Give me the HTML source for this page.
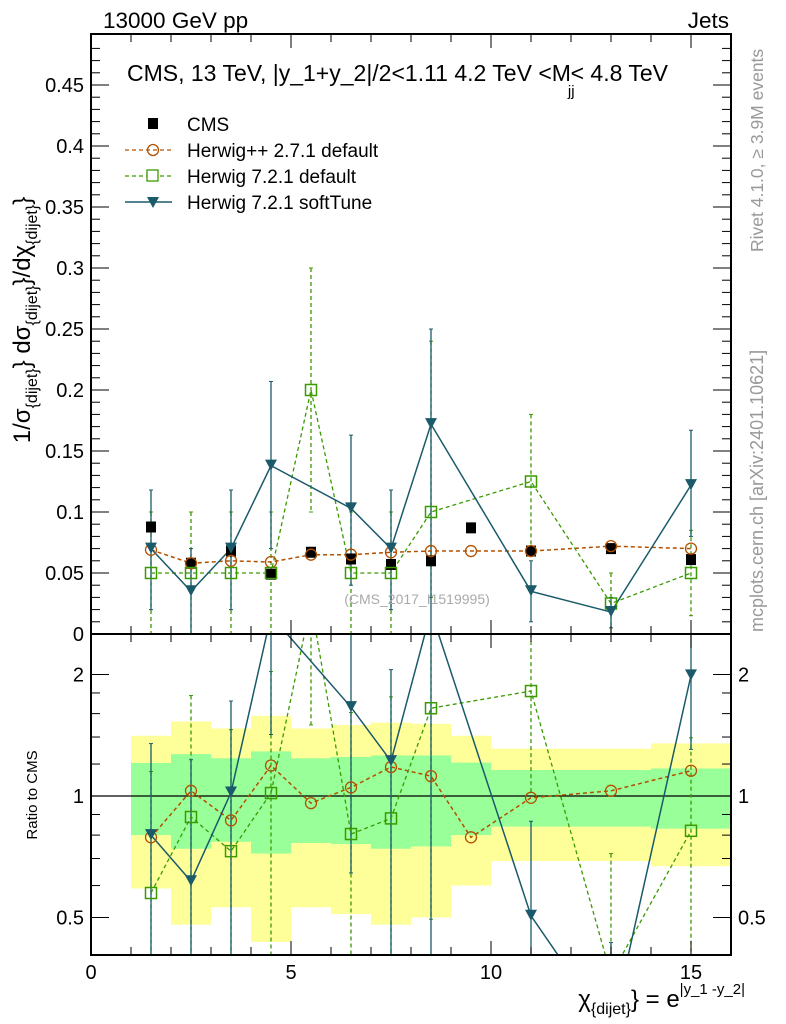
<!DOCTYPE html>
<html><head><meta charset="utf-8"><style>
html,body{margin:0;padding:0;background:#fff;width:786px;height:1024px;overflow:hidden;}
svg{display:block;font-family:"Liberation Sans",sans-serif;}
</style></head><body>
<svg id="chart" width="786" height="1024" viewBox="0 0 786 1024" xmlns="http://www.w3.org/2000/svg">
<g id="bands"></g>
<g id="grid"></g>
<g id="marks"></g>
<g id="axes"></g>
<text x="103" y="28" font-size="22.5">13000 GeV pp</text>
<text x="729" y="28" font-size="22.5" text-anchor="end">Jets</text>
<text x="127" y="81" font-size="23">CMS, 13 TeV, |y_1+y_2|/2&lt;1.11 4.2 TeV &lt;M<tspan font-size="15" dy="15" dx="-3">jj</tspan><tspan dy="-15" dx="-4">&lt; 4.8 TeV</tspan></text>
<text x="417" y="604" font-size="14" fill="#aaa" text-anchor="middle">(CMS_2017_I1519995)</text>
<text transform="translate(763,252) rotate(-90)" font-size="17.5" fill="#999">Rivet 4.1.0, ≥ 3.9M events</text>
<text transform="translate(763,632) rotate(-90)" font-size="18" fill="#999">mcplots.cern.ch [arXiv:2401.10621]</text>
<text transform="translate(30,320) rotate(-90)" font-size="24" text-anchor="middle">1/σ<tspan font-size="16" dy="7">{dijet}</tspan><tspan dy="-7">} dσ</tspan><tspan font-size="16" dy="7">{dijet}</tspan><tspan dy="-7">}/dχ</tspan><tspan font-size="16" dy="7">{dijet}</tspan><tspan dy="-7">}</tspan></text>
<text transform="translate(37,795) rotate(-90)" font-size="15" text-anchor="middle">Ratio to CMS</text>
<text x="745" y="1007" font-size="24" text-anchor="end">χ<tspan font-size="16" dy="7">{dijet}</tspan><tspan dy="-7">} = e</tspan><tspan font-size="15" dy="-13">|y_1 -y_2|</tspan></text>
<g>
<rect x="148" y="118" width="10" height="11" fill="#000"/>
<text x="187" y="131" font-size="19">CMS</text>
<line x1="125" y1="150" x2="172" y2="150" stroke="#b35000" stroke-width="1.3" stroke-dasharray="4,3"/>
<circle cx="153" cy="150" r="5.5" fill="none" stroke="#b35000" stroke-width="1.3"/>
<text x="187" y="157" font-size="19">Herwig++ 2.7.1 default</text>
<line x1="125" y1="176" x2="172" y2="176" stroke="#3a9a00" stroke-width="1.3" stroke-dasharray="4,3"/>
<rect x="147" y="170" width="11" height="11" fill="#fff" stroke="#3a9a00" stroke-width="1.3"/>
<text x="187" y="183" font-size="19">Herwig 7.2.1 default</text>
<line x1="125" y1="202" x2="172" y2="202" stroke="#1a5a6a" stroke-width="1.5"/>
<path d="M147,197 L159,197 L153,208 Z" fill="#1a5a6a"/>
<text x="187" y="209" font-size="19">Herwig 7.2.1 softTune</text>
</g>
</svg>
<script>
const binEdges=[1,2,3,4,5,6,7,8,9,10,14,16];
const xCenters=[1.5,2.5,3.5,4.5,5.5,6.5,7.5,8.5,9.5,11,13,15];
const cmsVals=[0.0877,0.058,0.068,0.049,0.067,0.0615,0.057,0.06,0.087,0.068,0.07,0.061];
const hppVals=[0.069,0.058,0.06,0.059,0.065,0.065,0.067,0.068,0.068,0.068,0.072,0.070];
const h7Vals=[0.05,0.05,0.05,0.05,0.2,0.05,0.05,0.1,null,0.125,0.025,0.05];
const h7Lo=[0,0,0,0,0.1,0,0,0.03,null,0.07,0,0.015];
const h7Hi=[0.1,0.1,0.1,0.1,0.3,0.1,0.1,0.24,null,0.18,0.05,0.085];
const stVals=[0.07,0.035,0.07,0.138,null,0.103,0.07,0.172,null,0.035,0.018,0.122];
const stLo=[0.02,0,0.02,0.07,null,0.04,0.02,0,null,0.01,0.005,0.08];
const stHi=[0.118,0.07,0.118,0.207,null,0.163,0.118,0.25,null,0.06,0.03,0.167];
const hppRatio=[0.79,1.03,0.87,1.19,0.96,1.05,1.18,1.12,0.79,0.99,1.03,1.155];
const h7Ratio=[0.575,0.887,0.73,1.017,3.0,0.805,0.88,1.65,null,1.82,0.36,0.82];
const stRatio=[0.8,0.615,1.02,2.8,null,1.66,1.22,2.87,null,0.505,0.26,1.99];
const greenHi=[1.207,1.27,1.24,1.29,1.24,1.25,1.26,1.26,1.21,1.16,1.17];
const greenLo=[0.80,0.74,0.77,0.72,0.765,0.76,0.74,0.75,0.80,0.84,0.83];
const yellowHi=[1.41,1.53,1.47,1.58,1.47,1.5,1.52,1.51,1.41,1.31,1.35];
const yellowLo=[0.59,0.48,0.53,0.435,0.53,0.51,0.48,0.5,0.6,0.69,0.67];
const xTicks=[0,5,10,15];
const yTicks=[0.05,0.1,0.15,0.2,0.25,0.3,0.35,0.4,0.45];
const rTicks=[0.5,1,2];

const NS="http://www.w3.org/2000/svg";
const L=91,R=731,T=34,MB=634,RB=955;
const X=v=>L+v*40;
const Y=v=>MB-v*1220;
const RY=r=>796-Math.log2(r)*121.5;
const BROWN="#b35000",GREEN="#3a9a00",TEAL="#1a5a6a";
function mk(parent,tag,attrs){const e=document.createElementNS(NS,tag);for(const k in attrs)e.setAttribute(k,attrs[k]);document.getElementById(parent).appendChild(e);return e;}

for(let i=0;i<binEdges.length-1;i++){
  const x0=X(binEdges[i]),w=X(binEdges[i+1])-x0;
  const y=mk('bands','rect',{x:x0,y:RY(yellowHi[i]),width:w,height:RY(yellowLo[i])-RY(yellowHi[i]),fill:'#ffff99'});
  
  
  const g=mk('bands','rect',{x:x0,y:RY(greenHi[i]),width:w,height:RY(greenLo[i])-RY(greenHi[i]),fill:'#99ff99'});
  
  
}
mk('bands','line',{x1:L,x2:R,y1:RY(1),y2:RY(1),stroke:'#000','stroke-width':1.3});

const defs=document.createElementNS(NS,'defs');document.getElementById('chart').prepend(defs);
defs.innerHTML='<clipPath id="cm"><rect x="91" y="34" width="640" height="600"/></clipPath><clipPath id="cr"><rect x="91" y="634" width="640" height="321"/></clipPath>';
const gm=mk('marks','g',{'clip-path':'url(#cm)'});gm.id='gm';
const gr=mk('marks','g',{'clip-path':'url(#cr)'});gr.id='gr';

function polyline(g,xs,ys,yf,color,dash,w,name){
  let pts=[];xs.forEach((x,i)=>{if(ys[i]!=null)pts.push(X(x)+','+yf(ys[i]));});
  const p=mk(g,'polyline',{points:pts.join(' '),fill:'none',stroke:color,'stroke-width':w});
  if(dash)p.setAttribute('stroke-dasharray',dash);
  
  
}
function errbar(g,x,lo,hi,yf,color,dash){
  const a=mk(g,'line',{x1:X(x),x2:X(x),y1:yf(hi),y2:yf(lo),stroke:color,'stroke-width':1.3});
  if(dash)a.setAttribute('stroke-dasharray',dash);
  
  
  mk(g,'line',{x1:X(x)-2,x2:X(x)+2,y1:yf(hi),y2:yf(hi),stroke:color});
  mk(g,'line',{x1:X(x)-2,x2:X(x)+2,y1:yf(lo),y2:yf(lo),stroke:color});
}
function markers(g,xs,ys,yf,type,name){
  xs.forEach((x,i)=>{if(ys[i]==null)return;const cx=X(x),cy=yf(ys[i]);let e;
    if(type==='cms')e=mk(g,'rect',{x:cx-5,y:cy-5.5,width:10,height:11,fill:'#000'});
    else if(type==='circ')e=mk(g,'circle',{cx:cx,cy:cy,r:5.5,fill:'none',stroke:BROWN,'stroke-width':1.3});
    else if(type==='sq')e=mk(g,'rect',{x:cx-5.5,y:cy-5.5,width:11,height:11,fill:'none',stroke:GREEN,'stroke-width':1.5});
    else e=mk(g,'path',{d:`M${cx-6},${cy-6} L${cx+6},${cy-6} L${cx},${cy+5} Z`,fill:TEAL});
    
    
  });
}
xCenters.forEach((x,i)=>{if(h7Vals[i]!=null)errbar('gm',x,h7Lo[i],h7Hi[i],Y,GREEN,'4,3');});
xCenters.forEach((x,i)=>{if(stVals[i]!=null)errbar('gm',x,stLo[i],stHi[i],Y,TEAL,null);});
polyline('gm',xCenters,hppVals,Y,BROWN,'4,3',1.5,'herwigpp-line');
polyline('gm',xCenters,h7Vals,Y,GREEN,'4,3',1.3,'herwig721-line');
polyline('gm',xCenters,stVals,Y,TEAL,null,1.5,'softtune-line');
markers('gm',xCenters,cmsVals,Y,'cms','cms-point');
markers('gm',xCenters,hppVals,Y,'circ','herwigpp-point');
markers('gm',xCenters,h7Vals,Y,'sq','herwig721-point');
markers('gm',xCenters,stVals,Y,'tri','softtune-point');
xCenters.forEach((x,i)=>{if(h7Vals[i]!=null){const r=h7Ratio[i]/h7Vals[i];errbar('gr',x,Math.max(h7Lo[i]*r,0.01),h7Hi[i]*r,RY,GREEN,'4,3');}});
xCenters.forEach((x,i)=>{if(stVals[i]!=null){const r=stRatio[i]/stVals[i];errbar('gr',x,Math.max(stLo[i]*r,0.01),stHi[i]*r,RY,TEAL,null);}});
polyline('gr',xCenters,hppRatio,RY,BROWN,'4,3',1.5,'herwigpp-ratio-line');
polyline('gr',xCenters,h7Ratio,RY,GREEN,'4,3',1.3,'herwig721-ratio-line');
polyline('gr',xCenters,stRatio,RY,TEAL,null,1.5,'softtune-ratio-line');
markers('gr',xCenters,hppRatio,RY,'circ','herwigpp-ratio-point');
markers('gr',xCenters,h7Ratio,RY,'sq','herwig721-ratio-point');
markers('gr',xCenters,stRatio,RY,'tri','softtune-ratio-point');

mk('axes','rect',{x:L,y:T,width:R-L,height:MB-T,fill:'none',stroke:'#000','stroke-width':2});
mk('axes','rect',{x:L,y:MB,width:R-L,height:RB-MB,fill:'none',stroke:'#000','stroke-width':2});
function txt(x,y,s,anchor,size,name){const t=mk('axes','text',{x:x,y:y,'text-anchor':anchor,'font-size':size});t.textContent=s;
  
  }
for(let v=0;v<=16;v+=0.5){const big=(v%5===0),mid=(v%1===0);const len=big?14:(mid?8:0);if(!len)continue;
  [MB,RB].forEach(b=>{mk('axes','line',{x1:X(v),x2:X(v),y1:b,y2:b-len,stroke:'#000'});mk('axes','line',{x1:X(v),x2:X(v),y1:(b===MB?T:MB),y2:(b===MB?T:MB)+len,stroke:'#000'});});}
xTicks.forEach(v=>txt(X(v),979,String(v),'middle',20,'x-tick-label'));
for(let v=0.01;v<0.49;v+=0.01){const vv=Math.round(v*100)/100;const big=Math.abs(vv*20-Math.round(vv*20))<1e-6;const len=big?18:9;
  mk('axes','line',{x1:L,x2:L+len,y1:Y(vv),y2:Y(vv),stroke:'#000'});mk('axes','line',{x1:R,x2:R-len,y1:Y(vv),y2:Y(vv),stroke:'#000'});}
txt(84,641,'0','end',20,'y-tick-label');
yTicks.forEach(v=>txt(84,Y(v)+7,String(v),'end',20,'y-tick-label'));
[0.5,0.6,0.7,0.8,0.9,1,1.2,1.4,1.6,1.8,2].forEach(v=>{const big=rTicks.includes(v);const len=big?18:9;
  mk('axes','line',{x1:L,x2:L+len,y1:RY(v),y2:RY(v),stroke:'#000'});mk('axes','line',{x1:R,x2:R-len,y1:RY(v),y2:RY(v),stroke:'#000'});});
rTicks.forEach(v=>{txt(84,RY(v)+7,String(v),'end',20,'ratio-tick-label');txt(738,RY(v)+7,String(v),'start',20,'ratio-tick-label-right');});
</script>
</body></html>
